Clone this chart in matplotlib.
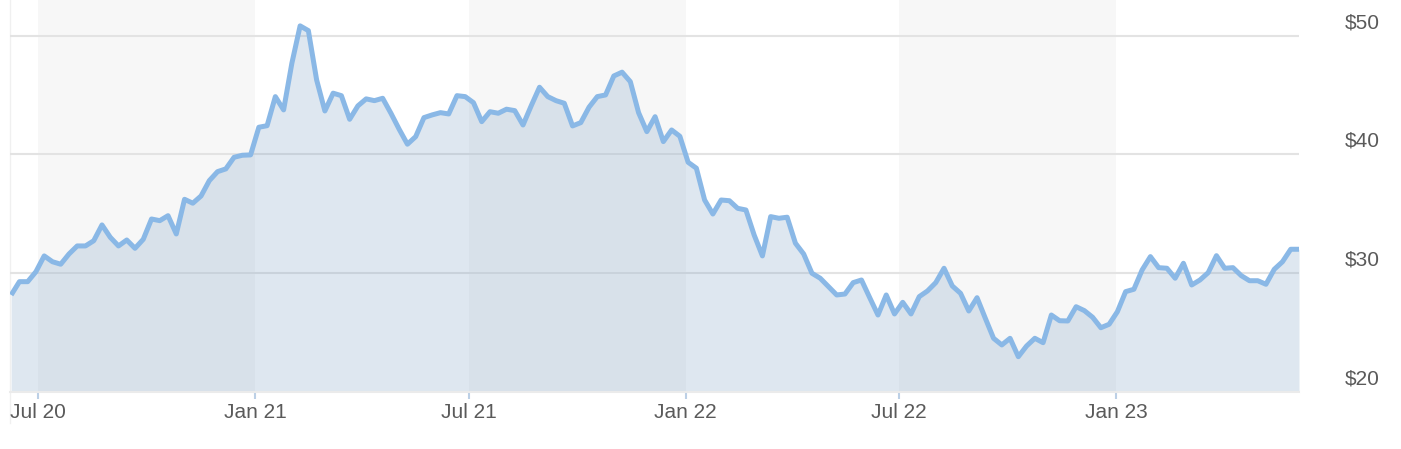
import matplotlib
matplotlib.use("Agg")
import matplotlib.pyplot as plt
import matplotlib.transforms as mtransforms
import pandas as pd

# weekly closing prices
START_DATE = "2020-06-08"
PRICES = [
    28.15, 29.27, 29.27, 30.11, 31.44, 30.95, 30.74, 31.60, 32.28, 32.28,
    32.72, 34.05, 33.01, 32.28, 32.78, 32.08, 32.84, 34.55, 34.41, 34.83,
    33.29, 36.21, 35.88, 36.49, 37.78, 38.54, 38.77, 39.75, 39.92, 39.95,
    42.28, 42.41, 44.86, 43.74, 47.67, 50.82, 50.42, 46.27, 43.65, 45.15,
    44.94, 42.95, 44.08, 44.67, 44.52, 44.72, 43.46, 42.11, 40.85, 41.49,
    43.09, 43.32, 43.51, 43.40, 44.94, 44.86, 44.35, 42.75, 43.59, 43.46,
    43.80, 43.68, 42.47, 44.10, 45.65, 44.86, 44.52, 44.30, 42.39, 42.67,
    43.97, 44.86, 45.00, 46.60, 46.92, 46.12, 43.51, 41.91, 43.17, 41.07,
    42.05, 41.52, 39.33, 38.83, 36.15, 34.97, 36.15, 36.09, 35.45, 35.31,
    33.20, 31.44, 34.75, 34.61, 34.70, 32.51, 31.60, 29.98, 29.56, 28.85,
    28.15, 28.23, 29.19, 29.41, 27.92, 26.46, 28.15, 26.55, 27.53, 26.55,
    28.01, 28.49, 29.19, 30.40, 28.91, 28.29, 26.80, 27.92, 26.19, 24.50,
    23.94, 24.50, 22.95, 23.85, 24.50, 24.13, 26.46, 25.98, 25.96, 27.16,
    26.83, 26.27, 25.39, 25.68, 26.74, 28.43, 28.63, 30.26, 31.38, 30.45,
    30.40, 29.56, 30.82, 28.99, 29.41, 30.03, 31.46, 30.40, 30.45, 29.78,
    29.35, 29.35, 29.05, 30.31, 30.95, 32.00, 32.00,
]
X_TICKS = ["2020-07-01", "2021-01-01", "2021-07-01", "2022-01-01", "2022-07-01", "2023-01-01"]
X_LABELS = ["Jul 20", "Jan 21", "Jul 21", "Jan 22", "Jul 22", "Jan 23"]
BANDS = [("2020-07-01", "2021-01-01"), ("2021-07-01", "2022-01-01"), ("2022-07-01", "2023-01-01")]
Y_TICKS = [20, 30, 40, 50]

LINE_COLOUR = "#8ab8e6"
FILL_COLOUR = "#7fa3c7"
TEXT_COLOUR = "#5a5a5a"

plt.rcParams["font.family"] = ["Liberation Sans", "DejaVu Sans"]

dates = pd.date_range(START_DATE, periods=len(PRICES), freq="7D")

W, H = 1401, 449
fig = plt.figure(figsize=(W / 100, H / 100), dpi=100)
ax = fig.add_axes([10 / W, 57.3 / H, 1289 / W, 391.7 / H])

for a, b in BANDS:
    ax.axvspan(pd.Timestamp(a), pd.Timestamp(b), color="#f7f7f7", lw=0, zorder=0)

for y in Y_TICKS[1:]:
    ax.axhline(y, color="#e3e3e3", lw=1.5, zorder=0.5)

ax.fill_between(dates, PRICES, 20, color=FILL_COLOUR, alpha=0.25, lw=0, zorder=1)
ax.plot(dates, PRICES, color=LINE_COLOUR, lw=3.6, solid_joinstyle="round",
        solid_capstyle="butt", zorder=2)

ax.set_xlim(dates[0] - pd.Timedelta(days=1), dates[-1])
ax.set_ylim(20, 53.0)

for s in ["top", "right", "left"]:
    ax.spines[s].set_visible(False)
ax.spines["bottom"].set_color("#ebebeb")
ax.spines["bottom"].set_linewidth(1.5)

# faint left rule running below the axis
ax.axvline(dates[0] - pd.Timedelta(days=1), ymin=-0.08, ymax=1, color="#f0f0f0",
           lw=1, clip_on=False, zorder=0)

ax.set_xticks(pd.to_datetime(X_TICKS))
ax.set_xticklabels(X_LABELS)
ax.tick_params(axis="x", length=5, width=1.5, color="#bcd0e6", pad=3,
               labelsize=15, labelcolor=TEXT_COLOUR)

ax.set_yticks([])
offset = mtransforms.ScaledTranslation(0, 0.13, fig.dpi_scale_trans)
trans = mtransforms.blended_transform_factory(fig.transFigure, ax.transData) + offset
for y in Y_TICKS:
    ax.text(1345 / W, y, f"${y}", transform=trans, ha="left", va="center",
            fontsize=15, color=TEXT_COLOUR, clip_on=False)

fig.savefig("out.png", dpi=100)
